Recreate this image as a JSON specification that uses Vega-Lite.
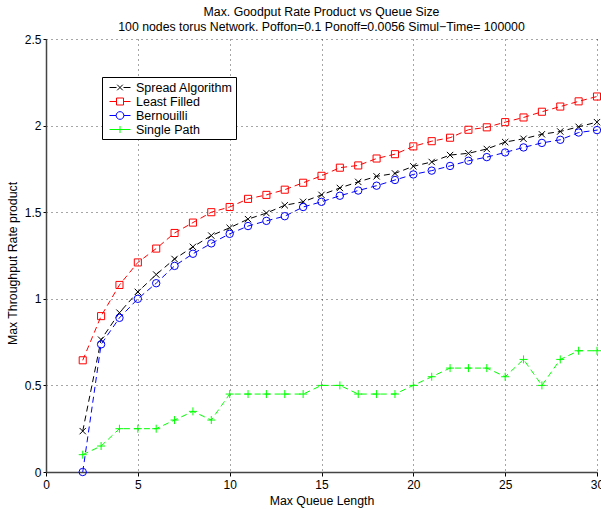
{
  "$schema": "https://vega.github.io/schema/vega-lite/v6.json",
  "autosize": {"type": "none"},
  "padding": {"left": 46, "top": 39, "right": 4, "bottom": 38},
  "width": 551,
  "height": 433,
  "background": "white",
  "config": {
    "font": "Liberation Sans",
    "view": {"stroke": null},
    "axis": {
      "labelFont": "Liberation Sans",
      "titleFont": "Liberation Sans",
      "labelFontSize": 12,
      "titleFontSize": 12.3,
      "labelColor": "#000",
      "titleColor": "#000",
      "titleFontWeight": "normal",
      "domainColor": "#444",
      "domainWidth": 1.5,
      "tickColor": "#000",
      "gridColor": "#000",
      "gridDash": [1, 4],
      "gridOpacity": 0.7,
      "gridWidth": 1
    },
    "legend": {
      "orient": "none",
      "legendX": 56,
      "legendY": 38,
      "padding": 3,
      "rowPadding": 0,
      "strokeColor": "#000",
      "fillColor": "#fff",
      "cornerRadius": 0,
      "labelFont": "Liberation Sans",
      "labelFontSize": 12.5,
      "labelColor": "#000",
      "labelOffset": 8.5,
      "symbolSize": 196,
      "symbolStrokeWidth": 1,
      "symbolOpacity": 1,
      "symbolFillColor": "transparent",
      "symbolOffset": 7.5
    }
  },
  "title": {
    "text": "Max. Goodput Rate Product vs Queue Size",
    "subtitle": "100 nodes torus Network. Poffon=0.1 Ponoff=0.0056 Simul−Time= 100000",
    "font": "Liberation Sans",
    "subtitleFont": "Liberation Sans",
    "fontSize": 12.3,
    "subtitleFontSize": 12.3,
    "fontWeight": "normal",
    "color": "#000",
    "subtitleColor": "#000",
    "subtitlePadding": 2,
    "anchor": "middle",
    "offset": 0
  },
  "data": {
    "values": [
      {"q": 2, "series": "Spread Algorithm", "v": 0.236},
      {"q": 3, "series": "Spread Algorithm", "v": 0.764},
      {"q": 4, "series": "Spread Algorithm", "v": 0.92},
      {"q": 5, "series": "Spread Algorithm", "v": 1.04},
      {"q": 6, "series": "Spread Algorithm", "v": 1.14},
      {"q": 7, "series": "Spread Algorithm", "v": 1.23},
      {"q": 8, "series": "Spread Algorithm", "v": 1.3},
      {"q": 9, "series": "Spread Algorithm", "v": 1.365},
      {"q": 10, "series": "Spread Algorithm", "v": 1.41},
      {"q": 11, "series": "Spread Algorithm", "v": 1.46},
      {"q": 12, "series": "Spread Algorithm", "v": 1.495},
      {"q": 13, "series": "Spread Algorithm", "v": 1.54},
      {"q": 14, "series": "Spread Algorithm", "v": 1.56},
      {"q": 15, "series": "Spread Algorithm", "v": 1.6},
      {"q": 16, "series": "Spread Algorithm", "v": 1.64},
      {"q": 17, "series": "Spread Algorithm", "v": 1.675},
      {"q": 18, "series": "Spread Algorithm", "v": 1.707},
      {"q": 19, "series": "Spread Algorithm", "v": 1.724},
      {"q": 20, "series": "Spread Algorithm", "v": 1.765},
      {"q": 21, "series": "Spread Algorithm", "v": 1.79},
      {"q": 22, "series": "Spread Algorithm", "v": 1.83},
      {"q": 23, "series": "Spread Algorithm", "v": 1.84},
      {"q": 24, "series": "Spread Algorithm", "v": 1.865},
      {"q": 25, "series": "Spread Algorithm", "v": 1.905},
      {"q": 26, "series": "Spread Algorithm", "v": 1.924},
      {"q": 27, "series": "Spread Algorithm", "v": 1.95},
      {"q": 28, "series": "Spread Algorithm", "v": 1.966},
      {"q": 29, "series": "Spread Algorithm", "v": 1.993},
      {"q": 30, "series": "Spread Algorithm", "v": 2.02},
      {"q": 2, "series": "Least Filled", "v": 0.645},
      {"q": 3, "series": "Least Filled", "v": 0.9},
      {"q": 4, "series": "Least Filled", "v": 1.08},
      {"q": 5, "series": "Least Filled", "v": 1.21},
      {"q": 6, "series": "Least Filled", "v": 1.29},
      {"q": 7, "series": "Least Filled", "v": 1.38},
      {"q": 8, "series": "Least Filled", "v": 1.44},
      {"q": 9, "series": "Least Filled", "v": 1.5},
      {"q": 10, "series": "Least Filled", "v": 1.53},
      {"q": 11, "series": "Least Filled", "v": 1.577},
      {"q": 12, "series": "Least Filled", "v": 1.6},
      {"q": 13, "series": "Least Filled", "v": 1.63},
      {"q": 14, "series": "Least Filled", "v": 1.67},
      {"q": 15, "series": "Least Filled", "v": 1.71},
      {"q": 16, "series": "Least Filled", "v": 1.757},
      {"q": 17, "series": "Least Filled", "v": 1.77},
      {"q": 18, "series": "Least Filled", "v": 1.81},
      {"q": 19, "series": "Least Filled", "v": 1.835},
      {"q": 20, "series": "Least Filled", "v": 1.88},
      {"q": 21, "series": "Least Filled", "v": 1.91},
      {"q": 22, "series": "Least Filled", "v": 1.93},
      {"q": 23, "series": "Least Filled", "v": 1.976},
      {"q": 24, "series": "Least Filled", "v": 1.99},
      {"q": 25, "series": "Least Filled", "v": 2.02},
      {"q": 26, "series": "Least Filled", "v": 2.047},
      {"q": 27, "series": "Least Filled", "v": 2.08},
      {"q": 28, "series": "Least Filled", "v": 2.11},
      {"q": 29, "series": "Least Filled", "v": 2.14},
      {"q": 30, "series": "Least Filled", "v": 2.168},
      {"q": 2, "series": "Bernouilli", "v": 0.0},
      {"q": 3, "series": "Bernouilli", "v": 0.737},
      {"q": 4, "series": "Bernouilli", "v": 0.89},
      {"q": 5, "series": "Bernouilli", "v": 1.0},
      {"q": 6, "series": "Bernouilli", "v": 1.09},
      {"q": 7, "series": "Bernouilli", "v": 1.19},
      {"q": 8, "series": "Bernouilli", "v": 1.26},
      {"q": 9, "series": "Bernouilli", "v": 1.32},
      {"q": 10, "series": "Bernouilli", "v": 1.375},
      {"q": 11, "series": "Bernouilli", "v": 1.42},
      {"q": 12, "series": "Bernouilli", "v": 1.45},
      {"q": 13, "series": "Bernouilli", "v": 1.477},
      {"q": 14, "series": "Bernouilli", "v": 1.53},
      {"q": 15, "series": "Bernouilli", "v": 1.56},
      {"q": 16, "series": "Bernouilli", "v": 1.595},
      {"q": 17, "series": "Bernouilli", "v": 1.625},
      {"q": 18, "series": "Bernouilli", "v": 1.653},
      {"q": 19, "series": "Bernouilli", "v": 1.686},
      {"q": 20, "series": "Bernouilli", "v": 1.718},
      {"q": 21, "series": "Bernouilli", "v": 1.74},
      {"q": 22, "series": "Bernouilli", "v": 1.767},
      {"q": 23, "series": "Bernouilli", "v": 1.797},
      {"q": 24, "series": "Bernouilli", "v": 1.818},
      {"q": 25, "series": "Bernouilli", "v": 1.845},
      {"q": 26, "series": "Bernouilli", "v": 1.874},
      {"q": 27, "series": "Bernouilli", "v": 1.9},
      {"q": 28, "series": "Bernouilli", "v": 1.918},
      {"q": 29, "series": "Bernouilli", "v": 1.96},
      {"q": 30, "series": "Bernouilli", "v": 1.974},
      {"q": 2, "series": "Single Path", "v": 0.1},
      {"q": 3, "series": "Single Path", "v": 0.15},
      {"q": 4, "series": "Single Path", "v": 0.25},
      {"q": 5, "series": "Single Path", "v": 0.25},
      {"q": 6, "series": "Single Path", "v": 0.25},
      {"q": 7, "series": "Single Path", "v": 0.3},
      {"q": 8, "series": "Single Path", "v": 0.35},
      {"q": 9, "series": "Single Path", "v": 0.3},
      {"q": 10, "series": "Single Path", "v": 0.45},
      {"q": 11, "series": "Single Path", "v": 0.45},
      {"q": 12, "series": "Single Path", "v": 0.45},
      {"q": 13, "series": "Single Path", "v": 0.45},
      {"q": 14, "series": "Single Path", "v": 0.45},
      {"q": 15, "series": "Single Path", "v": 0.5},
      {"q": 16, "series": "Single Path", "v": 0.5},
      {"q": 17, "series": "Single Path", "v": 0.45},
      {"q": 18, "series": "Single Path", "v": 0.45},
      {"q": 19, "series": "Single Path", "v": 0.45},
      {"q": 20, "series": "Single Path", "v": 0.5},
      {"q": 21, "series": "Single Path", "v": 0.55},
      {"q": 22, "series": "Single Path", "v": 0.6},
      {"q": 23, "series": "Single Path", "v": 0.6},
      {"q": 24, "series": "Single Path", "v": 0.6},
      {"q": 25, "series": "Single Path", "v": 0.55},
      {"q": 26, "series": "Single Path", "v": 0.65},
      {"q": 27, "series": "Single Path", "v": 0.5},
      {"q": 28, "series": "Single Path", "v": 0.65},
      {"q": 29, "series": "Single Path", "v": 0.7},
      {"q": 30, "series": "Single Path", "v": 0.7}
    ]
  },
  "encoding": {
    "x": {
      "field": "q",
      "type": "quantitative",
      "scale": {"domain": [0, 30], "nice": false, "zero": false},
      "axis": {
        "title": "Max Queue Length",
        "values": [0, 5, 10, 15, 20, 25, 30],
        "format": "~g",
        "tickSize": 4,
        "labelPadding": 3,
        "titlePadding": 4,
        "labelFlush": false
      }
    },
    "y": {
      "field": "v",
      "type": "quantitative",
      "scale": {"domain": [0, 2.5], "nice": false},
      "axis": {
        "title": "Max Throughput Rate product",
        "values": [0, 0.5, 1, 1.5, 2, 2.5],
        "format": "~g",
        "tickSize": 3,
        "labelPadding": 2,
        "titlePadding": 5,
        "titleY": 224,
        "labelFlush": false
      }
    },
    "color": {
      "field": "series",
      "type": "nominal",
      "scale": {
        "domain": ["Spread Algorithm", "Least Filled", "Bernouilli", "Single Path"],
        "range": ["#000000", "#ff0000", "#0000ff", "#00ff00"]
      },
      "legend": {"title": null}
    }
  },
  "layer": [
    {
      "mark": {"type": "line", "strokeDash": [6, 4], "strokeWidth": 1},
      "encoding": {"detail": {"field": "series"}}
    },
    {
      "transform": [{"filter": {"field": "series", "equal": "Spread Algorithm"}}],
      "mark": {"type": "point", "filled": false, "strokeWidth": 1, "opacity": 1, "size": 40, "shape": "M-1,-1L1,1M-1,1L1,-1"}
    },
    {
      "transform": [{"filter": {"field": "series", "equal": "Least Filled"}}],
      "mark": {"type": "point", "filled": false, "strokeWidth": 1, "opacity": 1, "size": 50, "shape": "square"}
    },
    {
      "transform": [{"filter": {"field": "series", "equal": "Bernouilli"}}],
      "mark": {"type": "point", "filled": false, "strokeWidth": 1, "opacity": 1, "size": 55, "shape": "circle"}
    },
    {
      "transform": [{"filter": {"field": "series", "equal": "Single Path"}}],
      "mark": {"type": "point", "filled": false, "strokeWidth": 1, "opacity": 1, "size": 64, "shape": "M-1,0L1,0M0,-1L0,1"}
    },
    {
      "mark": {"type": "point", "filled": false, "strokeWidth": 1, "opacity": 0, "size": 1},
      "encoding": {
        "shape": {
          "field": "series",
          "type": "nominal",
          "scale": {
            "domain": ["Spread Algorithm", "Least Filled", "Bernouilli", "Single Path"],
            "range": [
              "M-1.5,-0L-0.5,0M0.5,0L1.5,0M-0.4,-0.4L0.4,0.4M-0.4,0.4L0.4,-0.4",
              "M-1.5,0L-0.5,0M0.5,0L1.5,0M-0.5,-0.5L0.5,-0.5L0.5,0.5L-0.5,0.5Z",
              "M-1.5,0L-0.55,0M0.55,0L1.5,0M0.55,0A0.55,0.55 0 1,1 -0.55,0A0.55,0.55 0 1,1 0.55,0",
              "M-1.5,0L1.5,0M0,-0.5L0,0.5"
            ]
          },
          "legend": {"title": null}
        }
      }
    }
  ]
}
